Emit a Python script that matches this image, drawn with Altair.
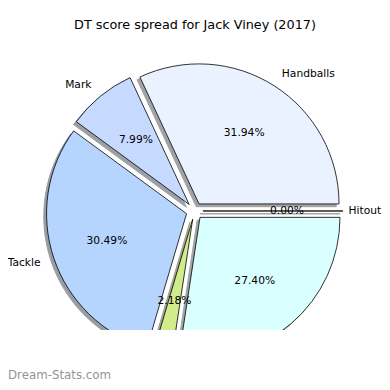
import altair as alt
import pandas as pd

# ---- data ----
labels = ["Handballs", "Mark", "Tackle", "Goal", "Kick", "Hitout"]
shares = [31.94, 7.99, 30.49, 2.18, 27.40, 0.00]
colors = ["#ebf2ff", "#c6d9ff", "#b5d5ff", "#d1ec8c", "#d9ffff", "#ffe0d0"]
title_text = "DT score spread for Jack Viney (2017)"
watermark = "Dream-Stats.com"

def shade(hexcol):
    r, g, b = (int(hexcol[i:i + 2], 16) for i in (1, 3, 5))
    return "#%02x%02x%02x" % (int(r * 0.3), int(g * 0.3), int(b * 0.3))

shadow_colors = [shade(c) for c in colors]

df = pd.DataFrame({"idx": list(range(len(labels))), "label": labels, "pct": shares})

EXPLODE = 0.06
LBL = 1.1
PCTD = 0.6
R = 140
YMIN, YMAX = -0.85, 1.164
W, H = 374, 282

xs = alt.Scale(domain=[-1.332, 1.339], nice=False, zero=False)
ys = alt.Scale(domain=[YMIN, YMAX], nice=False, zero=False)

base = (
    alt.Chart(df)
    .transform_window(cum="sum(pct)", sort=[alt.SortField("idx")], frame=[None, 0])
    .transform_joinaggregate(total="sum(pct)")
    .transform_calculate(
        a1="2.5*PI - 2*PI*datum.cum/datum.total",
        a2="2.5*PI - 2*PI*(datum.cum - datum.pct)/datum.total",
    )
    .transform_calculate(m="(datum.a1 + datum.a2)/2")
    .transform_calculate(dx="sin(datum.m)", dy="cos(datum.m)")
    .transform_calculate(
        ox=f"{EXPLODE}*datum.dx",
        oy=f"{EXPLODE}*datum.dy",
        sx=f"{EXPLODE}*datum.dx - 0.02",
        sy=f"{EXPLODE}*datum.dy - 0.02",
        lx=f"min(({EXPLODE}+{LBL})*datum.dx, 1.10)",
        ly=f"({EXPLODE}+{LBL})*datum.dy",
        px=f"({EXPLODE}+{PCTD})*datum.dx",
        py=f"({EXPLODE}+{PCTD})*datum.dy",
        ptxt="format(100*datum.pct/datum.total, '.2f') + '%'",
    )
)

shadow = base.mark_arc(radius=R, opacity=0.5, clip=True).encode(
    x=alt.X("sx:Q", scale=xs, axis=None),
    y=alt.Y("sy:Q", scale=ys, axis=None),
    theta=alt.Theta("a1:Q", scale=None),
    theta2="a2:Q",
    fill=alt.Fill("label:N", scale=alt.Scale(domain=labels, range=shadow_colors), legend=None),
    stroke=alt.Stroke("label:N", scale=alt.Scale(domain=labels, range=shadow_colors), legend=None),
)

slices = base.mark_arc(radius=R, stroke="black", strokeWidth=0.8, clip=True).encode(
    x=alt.X("ox:Q", scale=xs, axis=None),
    y=alt.Y("oy:Q", scale=ys, axis=None),
    theta=alt.Theta("a1:Q", scale=None),
    theta2="a2:Q",
    color=alt.Color("label:N", scale=alt.Scale(domain=labels, range=colors), legend=None),
)

txt = dict(font="DejaVu Sans", fontSize=10.7, color="black", baseline="middle", clip=True)

# outer labels that fall below the cropped bottom edge are hidden, as in the reference
visible = f"datum.ly > {YMIN} + 0.06"
lab_right = base.transform_filter(f"datum.dx > 1e-9 && {visible}").mark_text(align="left", **txt).encode(
    x=alt.X("lx:Q", scale=xs), y=alt.Y("ly:Q", scale=ys), text="label:N"
)
lab_left = base.transform_filter(f"datum.dx <= 1e-9 && {visible}").mark_text(align="right", **txt).encode(
    x=alt.X("lx:Q", scale=xs), y=alt.Y("ly:Q", scale=ys), text="label:N"
)
pcts = base.mark_text(align="center", **txt).encode(
    x=alt.X("px:Q", scale=xs), y=alt.Y("py:Q", scale=ys), text="ptxt:N"
)

title = alt.Chart(pd.DataFrame({"t": [title_text]})).mark_text(
    font="DejaVu Sans", fontSize=12.8, color="black", align="center", baseline="middle", clip=False
).encode(text="t:N", x=alt.value(W / 2), y=alt.value(-23))

wm = alt.Chart(pd.DataFrame({"t": [watermark]})).mark_text(
    font="DejaVu Sans", fontSize=11.8, color="#959595", align="left", baseline="middle", clip=False
).encode(text="t:N", x=alt.value(0), y=alt.value(327))

chart = (
    alt.layer(shadow, slices, lab_right, lab_left, pcts, title, wm)
    .properties(
        width=W,
        height=H,
        autosize=alt.AutoSizeParams(type="none"),
        padding={"top": 40, "left": 0, "right": 0, "bottom": 52},
    )
    .configure_view(stroke=None)
)

chart.save("out.html", embed_options={"renderer": "svg", "actions": False})
